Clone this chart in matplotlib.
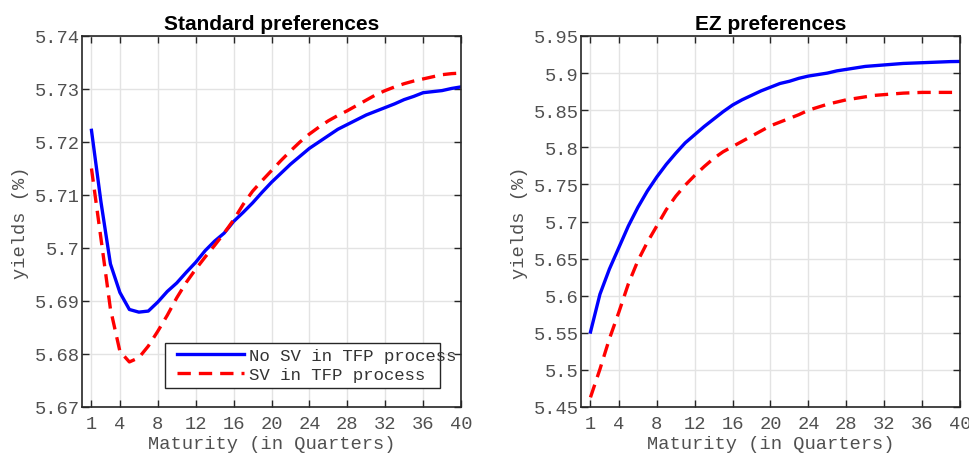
import matplotlib
matplotlib.use("Agg")
import matplotlib.pyplot as plt
from matplotlib.patches import Rectangle
from matplotlib.lines import Line2D

maturity = list(range(1, 41))

std_no_sv = [5.7222, 5.7087, 5.6970, 5.6916, 5.6884, 5.6879, 5.6881, 5.6898, 5.6918, 5.6934,
             5.6954, 5.6973, 5.6995, 5.7013, 5.7028, 5.7050, 5.7067, 5.7085, 5.7105, 5.7124,
             5.7141, 5.7158, 5.7173, 5.7188, 5.7200, 5.7212, 5.7224, 5.7233, 5.7242, 5.7251,
             5.7258, 5.7265, 5.7272, 5.7280, 5.7286, 5.7293, 5.7295, 5.7297, 5.7301, 5.7304]
std_sv = [5.7150, 5.7018, 5.6885, 5.6805, 5.6785, 5.6793, 5.6815, 5.6843, 5.6873, 5.6906,
          5.6935, 5.6960, 5.6983, 5.7005, 5.7028, 5.7053, 5.7082, 5.7107, 5.7127, 5.7146,
          5.7165, 5.7183, 5.7200, 5.7215, 5.7228, 5.7240, 5.7250, 5.7259, 5.7269, 5.7279,
          5.7289, 5.7297, 5.7304, 5.7310, 5.7315, 5.7319, 5.7323, 5.7327, 5.7329, 5.7330]

ez_no_sv = [5.551, 5.602, 5.636, 5.665, 5.694, 5.719, 5.741, 5.760, 5.777, 5.792,
            5.806, 5.817, 5.828, 5.838, 5.848, 5.857, 5.864, 5.870, 5.876, 5.881,
            5.886, 5.889, 5.893, 5.896, 5.898, 5.900, 5.903, 5.905, 5.907, 5.909,
            5.910, 5.911, 5.912, 5.913, 5.9135, 5.914, 5.9145, 5.915, 5.9155, 5.9157]
ez_sv = [5.463, 5.501, 5.542, 5.578, 5.616, 5.647, 5.672, 5.694, 5.716, 5.734,
         5.749, 5.762, 5.774, 5.785, 5.794, 5.801, 5.808, 5.815, 5.822, 5.829,
         5.834, 5.839, 5.844, 5.850, 5.854, 5.858, 5.861, 5.864, 5.866, 5.868,
         5.870, 5.871, 5.872, 5.873, 5.8735, 5.874, 5.874, 5.874, 5.874, 5.874]

xticks = [1, 4, 8, 12, 16, 20, 24, 28, 32, 36, 40]
std_yticks = [5.67, 5.68, 5.69, 5.70, 5.71, 5.72, 5.73, 5.74]
std_ylabels = ["5.67", "5.68", "5.69", "5.7", "5.71", "5.72", "5.73", "5.74"]
ez_yticks = [5.45, 5.50, 5.55, 5.60, 5.65, 5.70, 5.75, 5.80, 5.85, 5.90, 5.95]
ez_ylabels = ["5.45", "5.5", "5.55", "5.6", "5.65", "5.7", "5.75", "5.8", "5.85", "5.9", "5.95"]

titles = ["Standard preferences", "EZ preferences"]
legend_labels = ["No SV in TFP process", "SV in TFP process"]

mono = "Liberation Mono"
tick_color = "#505050"
BLUE = "#0000ff"
RED = "#ff0000"
LW = 2.4
DASH = (0, (4.0, 2.4))

fig = plt.figure(figsize=(9.7, 4.56), dpi=100)
W, H = 970, 456
ax1 = fig.add_axes([82 / W, 1 - 408 / H, (461 - 82) / W, (408 - 37) / H])
ax2 = fig.add_axes([581 / W, 1 - 408 / H, (960 - 581) / W, (408 - 37) / H])

panels = [
    (ax1, std_no_sv, std_sv, (5.67, 5.74), std_yticks, std_ylabels, titles[0]),
    (ax2, ez_no_sv, ez_sv, (5.45, 5.95), ez_yticks, ez_ylabels, titles[1]),
]

for ax, blue, red, ylim, yt, yl, title in panels:
    ax.plot(maturity, blue, color=BLUE, lw=LW, solid_joinstyle="round")
    ax.plot(maturity, red, color=RED, lw=LW, linestyle=DASH)
    ax.set_xlim(0, 40)
    ax.set_ylim(*ylim)
    ax.set_xticks(xticks)
    ax.set_yticks(yt)
    ax.set_yticklabels(yl)
    ax.grid(True, color="#e3e3e3", lw=1.0)
    ax.set_axisbelow(True)
    ax.tick_params(direction="in", top=True, right=True, length=5, width=1.0,
                   color="#262626", labelcolor=tick_color, labelsize=13.5)
    ax.tick_params(axis="x", pad=6)
    ax.tick_params(axis="y", pad=1.5)
    for lab in ax.get_xticklabels() + ax.get_yticklabels():
        lab.set_family(mono)
    for sp in ax.spines.values():
        sp.set_color("#262626")
        sp.set_linewidth(1.2)
    ax.set_xlabel("Maturity (in Quarters)", family=mono, fontsize=13.5, color=tick_color, labelpad=2)
    ax.set_ylabel("yields (%)", family=mono, fontsize=13.5, color=tick_color, labelpad=4)
    ax.set_title(title, family="Liberation Sans", fontweight="bold", fontsize=15, pad=5)

# Manual MATLAB-style legend (text overflows the box like in the reference)
def px(x, y):
    return (x / W, 1 - y / H)

bx0, by0 = px(165, 388.5)
bx1, by1 = px(440, 343.5)
fig.add_artist(Rectangle((bx0, by0), bx1 - bx0, by1 - by0, transform=fig.transFigure,
                         facecolor="white", edgecolor="#262626", lw=1.0, zorder=5))
for i, (lab, col, ls) in enumerate(zip(legend_labels, [BLUE, RED], ["-", DASH])):
    yy = 355 + i * 19.3
    (xa, ya) = px(177, yy)
    (xb, _) = px(244, yy)
    fig.add_artist(Line2D([xa, xb], [ya, ya], transform=fig.transFigure, color=col,
                          lw=LW, linestyle=ls, zorder=6))
    tx, ty = px(249, yy)
    fig.text(tx, ty, lab, family=mono, fontsize=12.5, color="#333333",
             ha="left", va="center_baseline", zorder=7)

fig.savefig("out.png", dpi=100)
